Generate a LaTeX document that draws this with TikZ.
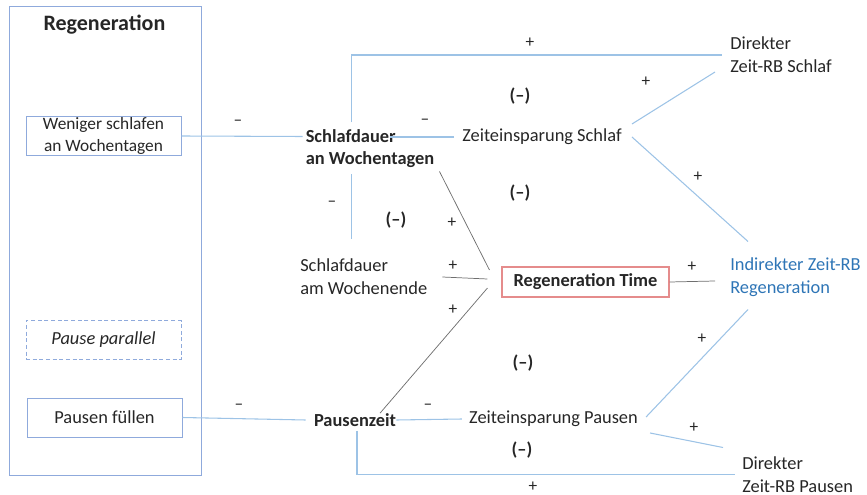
\documentclass[tikz,border=0pt]{standalone}
\usepackage{fontspec}
\setmainfont{Carlito}
\usetikzlibrary{calc}
\definecolor{lineblue}{HTML}{9DC3E6}
\definecolor{boxblue}{HTML}{8FAADC}
\definecolor{textblue}{HTML}{2E75B6}
\definecolor{boxred}{HTML}{E58C8C}
\definecolor{linegray}{HTML}{6F6F6F}
\begin{document}
\begin{tikzpicture}[x=0.75pt,y=-0.75pt,
    every node/.style={inner sep=0pt, text=black!85, font=\fontsize{13.8}{17}\selectfont},
    lbox/.style={draw=boxblue, line width=0.75pt, minimum width=116.25pt, minimum height=29.25pt, align=center, font=\fontsize{13.8}{15}\selectfont},
    bline/.style={lineblue, line width=0.8pt},
    kline/.style={linegray, line width=0.55pt},
    sgn/.style={font=\fontsize{13}{15}\selectfont},
    loopmark/.style={font=\fontsize{13.8}{17}\selectfont\bfseries}]
    \useasboundingbox (0,0) rectangle (867,495);
      \draw[boxblue, line width=0.75pt] (9,7) rectangle (201,475);
      \node[font=\fontsize{16.5}{19}\selectfont\bfseries] (title) at (104.5,25) {Regeneration};
      \node[lbox, font=\fontsize{13}{16.5}\selectfont] (weniger) at (103.5,136) {Weniger schlafen\\an Wochentagen};
      \node[lbox, densely dashed, font=\fontsize{13.8}{15}\selectfont\itshape] (pause) at (103.5,340) {Pause parallel};
      \node[lbox] (fuellen) at (104.5,417.5) {Pausen füllen};
      \node[align=left, font=\fontsize{13.8}{17}\selectfont\bfseries] (schlafWT) at (370,148.5) {Schlafdauer\\an Wochentagen};
      \node (zeitS) at (542,137) {Zeiteinsparung Schlaf};
      \node[anchor=west, align=left] (direktS) at (730,55) {Direkter\\Zeit-RB Schlaf};
      \node[anchor=west, align=left] (schlafWE) at (300,277) {Schlafdauer\\am Wochenende};
      \node[draw=boxred, line width=0.8pt, minimum width=125.25pt, minimum height=22.5pt, font=\fontsize{13.8}{17}\selectfont\bfseries] (regtime) at (585.5,282) {Regeneration Time};
      \node[anchor=west, align=left, text=textblue] (indirekt) at (730,277.5) {Indirekter Zeit-RB\\Regeneration};
      \node[font=\fontsize{13.8}{17}\selectfont\bfseries] (pausenzeit) at (355,420) {Pausenzeit};
      \node (zeitP) at (553.5,419) {Zeiteinsparung Pausen};
      \node[anchor=west, align=left] (direktP) at (742,474.5) {Direkter\\Zeit-RB Pausen};

      \draw[bline] (weniger.east) -- ($(schlafWT.west)+(-3,-12)$);
      \draw[bline] ($(zeitS.west)+(-8,0)$) -- ++(-64,0);
      \draw[bline] ($(schlafWT.west)+(46,-26)$) |- ($(direktS.west)+(-8,0)$);
      \draw[bline] ($(schlafWT.west)+(46,26)$) -- ++(0,65);
      \draw[bline] ($(zeitS.east)+(10,-13)$) -- ($(direktS.west)+(-15,17)$);
      \draw[bline] ($(zeitS.east)+(10,0)$) -- ($(indirekt.west)+(18,-36)$);
      \draw[kline] ($(schlafWT.east)+(5,23)$) -- ($(regtime.west)+(-12,-12)$);
      \draw[kline] ($(schlafWE.east)+(15,0)$) -- ($(regtime.west)+(-14,-3)$);
      \draw[kline] ($(pausenzeit.north)+(25,0)$) -- ($(regtime.west)+(-14,6)$);
      \draw[kline] (regtime.east) -- ($(indirekt.west)+(-15,3.5)$);
      \draw[bline] (fuellen.east) -- ($(pausenzeit.west)+(-8,0)$);
      \draw[bline] (pausenzeit.east) -- ($(zeitP.west)+(-7,0)$);
      \draw[bline] ($(zeitP.east)+(8,-2)$) -- ($(indirekt.west)+(18,32)$);
      \draw[bline] ($(zeitP.east)+(12,14)$) -- ($(direktP.west)+(-19,-27)$);
      \draw[bline] ($(pausenzeit.south)+(2,4)$) |- ($(direktP.west)+(-7,0)$);

      \foreach \x/\y/\s [count=\i] in {238/123/--, 425/122/--, 530/43/+, 646/82/+, 698/177/+, 332/204/--, 452/223/+, 453/266/+, 453/310/+, 692/267/+, 239/407/--, 428/407/--, 702/339/+, 694/428/+, 533/487/+}
        \node[sgn] (sign\i) at (\x,\y) {\s};
      \foreach \x/\y [count=\i] in {520/96, 520/193, 396/220, 523/363, 522/450}
        \node[loopmark] (loop\i) at (\x,\y) {(--)};
    \end{tikzpicture}
\end{document}
